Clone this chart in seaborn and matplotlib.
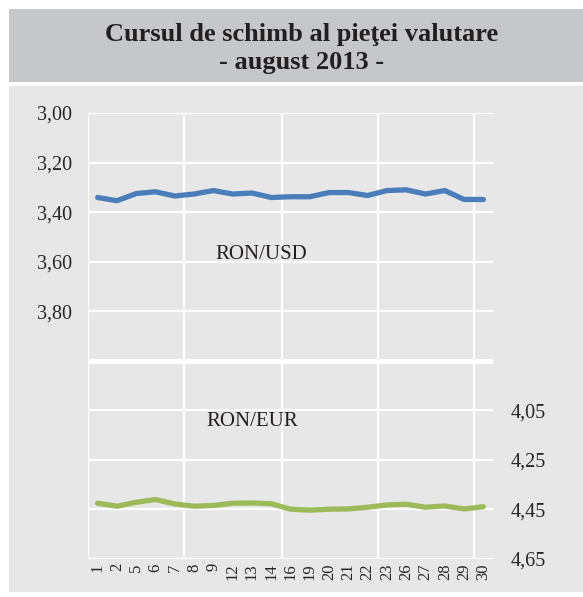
import numpy as np
import pandas as pd
import matplotlib
matplotlib.use("Agg")
import matplotlib.pyplot as plt
import seaborn as sns
from matplotlib.patches import Rectangle

# Date (zilele lunii august 2013)
zile = ["1", "2", "5", "6", "7", "8", "9", "12", "13", "14", "16",
        "19", "20", "21", "22", "23", "26", "27", "28", "29", "30"]
ron_usd = [3.341, 3.354, 3.325, 3.318, 3.335, 3.327, 3.313, 3.327, 3.323, 3.341, 3.338,
           3.338, 3.321, 3.321, 3.333, 3.313, 3.310, 3.327, 3.313, 3.349, 3.349]
ron_eur = [4.425, 4.437, 4.421, 4.410, 4.428, 4.437, 4.434, 4.425, 4.424, 4.427, 4.449,
           4.453, 4.449, 4.448, 4.441, 4.432, 4.429, 4.441, 4.436, 4.448, 4.439]
ticks_usd = [3.00, 3.20, 3.40, 3.60, 3.80]
ticks_eur = [4.05, 4.25, 4.45, 4.65]

df = pd.DataFrame({"zi": zile, "usd": ron_usd, "eur": ron_eur})
df["poz"] = np.arange(len(df))

sns.set_theme(style="white")
plt.rcParams["font.family"] = ["Liberation Serif", "DejaVu Serif"]

fond = "#e7e7e7"
fig = plt.figure(figsize=(5.83, 5.97), dpi=100)
fig.patch.set_facecolor("white")

# casete de fundal
fig.patches.append(Rectangle((9 / 583, 1 - 82 / 597), 574 / 583, 73 / 597,
                             transform=fig.transFigure, facecolor="#c6c7c9",
                             edgecolor="none", zorder=-10))
fig.patches.append(Rectangle((9 / 583, 1 - 592 / 597), 574 / 583, 506 / 597,
                             transform=fig.transFigure, facecolor=fond,
                             edgecolor="none", zorder=-10))

fig.text(0.518, 1 - 35 / 597, "Cursul de schimb al pieţei valutare",
         ha="center", va="center", fontsize=19, fontweight="bold", color="#231f20")
fig.text(0.518, 1 - 62 / 597, "- august 2013 -",
         ha="center", va="center", fontsize=19, fontweight="bold", color="#231f20")

ax = fig.add_axes([88 / 583, 1 - 559 / 597, 405 / 583, 446 / 597])
ax.set_facecolor(fond)
ax2 = ax.twinx()

# grila
for v in np.arange(3.0, 4.81, 0.2):
    ax.axhline(v, color="white", lw=1.6, zorder=1)
ax.axhline(4.0, color="white", lw=3.5, zorder=1)
for f in [0.0, 0.237, 0.479, 0.716, 0.953]:
    ax.axvline(-0.5 + f * 21, color="white", lw=1.6, zorder=1)

sns.lineplot(data=df, x="poz", y="usd", ax=ax, color="#4a7ebb", lw=3.8, zorder=3)
sns.lineplot(data=df, x="poz", y="eur", ax=ax2, color="#9bbb59", lw=3.8, zorder=3)

ax.set_xlim(-0.5, 20.5)
ax.set_ylim(4.80, 3.00)
ax2.set_ylim(4.65, 2.85)

ax.set_yticks(ticks_usd)
ax.set_yticklabels([f"{v:.2f}".replace(".", ",") for v in ticks_usd])
ax2.set_yticks(ticks_eur)
ax2.set_yticklabels([f"{v:.2f}".replace(".", ",") for v in ticks_eur])
ax.set_xticks(df["poz"])
ax.set_xticklabels(df["zi"], rotation=90)

ax.tick_params(axis="y", length=0, pad=11.5, labelsize=14.5, labelcolor="#262626")
ax2.tick_params(axis="y", length=0, pad=12.5, labelsize=14.5, labelcolor="#262626")
ax.tick_params(axis="x", length=0, pad=3, labelsize=12, labelcolor="#262626")
for a in (ax, ax2):
    a.set_xlabel("")
    a.set_ylabel("")
    for s in a.spines.values():
        s.set_visible(False)
ax2.patch.set_visible(False)

ax.text(8.5, 3.57, "RON/USD", ha="center", va="center", fontsize=15, color="#231f20", zorder=4)
ax2.text(8.0, 4.095, "RON/EUR", ha="center", va="center", fontsize=15, color="#231f20", zorder=4)

fig.savefig("out.png", dpi=100, facecolor=fig.get_facecolor())
